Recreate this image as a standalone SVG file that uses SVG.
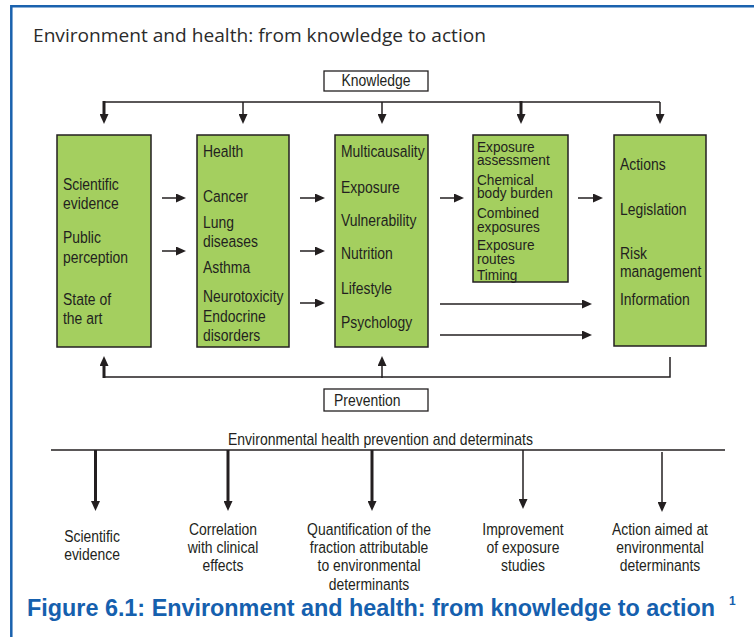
<svg xmlns="http://www.w3.org/2000/svg" width="754" height="637" viewBox="0 0 754 637">
  <style>
    .frame { fill: none; stroke: #1a62ae; stroke-width: 2.5; }
    .box { fill: #a4cf5f; stroke: #231f20; stroke-width: 1.5; }
    .label-box { fill: #ffffff; stroke: #231f20; stroke-width: 1.3; }
    .t { font-family: "Liberation Sans", Arial, sans-serif; font-size: 17px; fill: #231f20; }
    .tight { font-size: 15.5px; }
    .mid { text-anchor: middle; }
    .title { font-family: "Open Sans", "Liberation Sans", sans-serif; font-size: 19px; fill: #2b2b2b; }
    .caption { font-family: "Liberation Sans", Arial, sans-serif; font-size: 24px; font-weight: bold; fill: #1560ae; }
    .sup { font-family: "Liberation Sans", Arial, sans-serif; font-size: 12px; font-weight: bold; fill: #1560ae; }
    .line { fill: none; stroke: #231f20; stroke-width: 1.5; }
    .thick { stroke-width: 3; }
  </style>
  <defs>
    <marker id="head" markerUnits="userSpaceOnUse" markerWidth="10" markerHeight="9" refX="3" refY="4.5" orient="auto">
      <path d="M0,0 L10,4.5 L0,9 z" fill="#231f20"/>
    </marker>
  </defs>

  <!-- page frame (top and left rules) -->
  <path class="frame" d="M11.3,637 V6.2 H754"/>

  <text class="title" x="33" y="42" textLength="453" lengthAdjust="spacingAndGlyphs">Environment and health: from knowledge to action</text>

  <!-- Knowledge label -->
  <g id="knowledge">
    <rect class="label-box" x="324" y="71" width="104" height="20"/>
    <text class="t mid" transform="translate(376 86) scale(0.82 1)">Knowledge</text>
  </g>

  <!-- Node boxes -->
  <g id="node-evidence">
    <rect class="box" x="57" y="135" width="94" height="212"/>
    <g class="t" transform="translate(63 0) scale(0.82 1)">
      <text y="190">Scientific</text>
      <text y="209">evidence</text>
      <text y="243">Public</text>
      <text y="263">perception</text>
      <text y="305">State of</text>
      <text y="324">the art</text>
    </g>
  </g>

  <g id="node-health">
    <rect class="box" x="197" y="135" width="92" height="212"/>
    <g class="t" transform="translate(203 0) scale(0.82 1)">
      <text y="157">Health</text>
      <text y="202">Cancer</text>
      <text y="228">Lung</text>
      <text y="247">diseases</text>
      <text y="273">Asthma</text>
      <text y="302">Neurotoxicity</text>
      <text y="322">Endocrine</text>
      <text y="341">disorders</text>
    </g>
  </g>

  <g id="node-factors">
    <rect class="box" x="335" y="135" width="93" height="212"/>
    <g class="t" transform="translate(341 0) scale(0.82 1)">
      <text y="157">Multicausality</text>
      <text y="193">Exposure</text>
      <text y="226">Vulnerability</text>
      <text y="259">Nutrition</text>
      <text y="294">Lifestyle</text>
      <text y="328">Psychology</text>
    </g>
  </g>

  <!-- exposure box: lines set tight, as printed -->
  <g id="node-exposure">
    <rect class="box" x="473" y="135" width="95" height="147"/>
    <g class="t tight" transform="translate(477 0) scale(0.88 1)">
      <text y="152">Exposure</text>
      <text y="165">assessment</text>
      <text y="185">Chemical</text>
      <text y="198">body burden</text>
      <text y="218">Combined</text>
      <text y="232">exposures</text>
      <text y="250">Exposure</text>
      <text y="264">routes</text>
      <text y="280">Timing</text>
    </g>
  </g>

  <g id="node-actions">
    <rect class="box" x="614" y="135" width="92" height="211"/>
    <g class="t" transform="translate(620 0) scale(0.82 1)">
      <text y="170">Actions</text>
      <text y="215">Legislation</text>
      <text y="259">Risk</text>
      <text y="277">management</text>
      <text y="305">Information</text>
    </g>
  </g>

  <!-- Prevention label -->
  <g id="prevention">
    <rect class="label-box" x="324" y="389" width="104" height="22"/>
    <text class="t" transform="translate(334 406) scale(0.82 1)">Prevention</text>
  </g>

  <!-- Connectors -->
  <g id="connectors">
    <!-- knowledge distribution bar -->
    <path class="line" d="M104,102 H660"/>
    <path class="line thick" d="M104,101 V117" marker-end="url(#head)"/>
    <path class="line" d="M243,102 V117" marker-end="url(#head)"/>
    <path class="line" d="M382,102 V117" marker-end="url(#head)"/>
    <path class="line thick" d="M521,101 V117" marker-end="url(#head)"/>
    <path class="line" d="M660,102 V117" marker-end="url(#head)"/>

    <!-- evidence to health -->
    <path class="line" d="M162,198 H179" marker-end="url(#head)"/>
    <path class="line" d="M162,251 H179" marker-end="url(#head)"/>
    <!-- health to factors -->
    <path class="line" d="M300,198 H318" marker-end="url(#head)"/>
    <path class="line" d="M300,251 H318" stroke-width="2" marker-end="url(#head)"/>
    <path class="line" d="M300,303 H318" stroke-width="2" marker-end="url(#head)"/>
    <!-- factors to exposure -->
    <path class="line" d="M440,198 H457" marker-end="url(#head)"/>
    <!-- exposure to actions -->
    <path class="line" d="M578,198 H596" marker-end="url(#head)"/>
    <!-- factors to actions -->
    <path class="line" d="M440,304 H585" marker-end="url(#head)"/>
    <path class="line" d="M440,335 H585" marker-end="url(#head)"/>

    <!-- prevention feedback bar -->
    <path class="line" d="M670,357 V377 H103"/>
    <path class="line thick" d="M104,378 V363" marker-end="url(#head)"/>
    <path class="line" d="M382,378 V363" marker-end="url(#head)"/>

    <!-- determinants bar -->
    <path class="line" d="M51,450 H725"/>
    <path class="line thick" d="M95.5,450 V504" marker-end="url(#head)"/>
    <path class="line thick" d="M228,450 V504" marker-end="url(#head)"/>
    <path class="line thick" d="M372,450 V504" marker-end="url(#head)"/>
    <path class="line" d="M523,450 V502" marker-end="url(#head)"/>
    <path class="line" d="M662,452 V505" marker-end="url(#head)"/>
  </g>

  <text class="t" x="228" y="445" textLength="305" lengthAdjust="spacingAndGlyphs">Environmental health prevention and determinats</text>

  <!-- outcome labels -->
  <g id="out-evidence" class="t mid" transform="translate(92 0) scale(0.82 1)">
    <text y="542">Scientific</text>
    <text y="560">evidence</text>
  </g>
  <g id="out-correlation" class="t mid" transform="translate(223 0) scale(0.82 1)">
    <text y="535">Correlation</text>
    <text y="553">with clinical</text>
    <text y="571">effects</text>
  </g>
  <g id="out-quantification" class="t mid" transform="translate(369 0) scale(0.82 1)">
    <text y="535">Quantification of the</text>
    <text y="553">fraction attributable</text>
    <text y="571">to environmental</text>
    <text y="590">determinants</text>
  </g>
  <g id="out-improvement" class="t mid" transform="translate(523 0) scale(0.82 1)">
    <text y="535">Improvement</text>
    <text y="553">of exposure</text>
    <text y="571">studies</text>
  </g>
  <g id="out-action" class="t mid" transform="translate(660 0) scale(0.82 1)">
    <text y="535">Action aimed at</text>
    <text y="553">environmental</text>
    <text y="571">determinants</text>
  </g>

  <text class="caption" x="27" y="616" textLength="688" lengthAdjust="spacingAndGlyphs">Figure 6.1: Environment and health: from knowledge to action</text>
  <text class="sup" x="729" y="605">1</text>
</svg>
